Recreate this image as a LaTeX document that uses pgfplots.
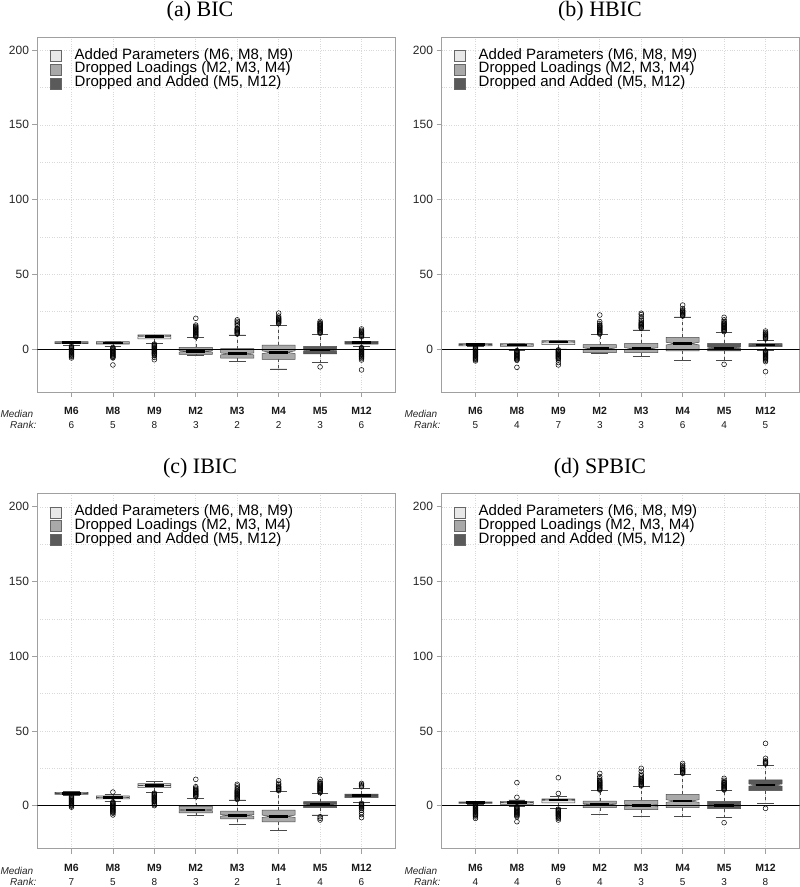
\documentclass[border=0pt]{standalone}
\usepackage{fontspec}
\setmainfont{Liberation Serif}
\newfontfamily\arial{Liberation Sans}
\usepackage{pgfplots}
\pgfplotsset{compat=1.18}
\usepgfplotslibrary{statistics}
\definecolor{cLight}{HTML}{E8E8E8}
\definecolor{cMid}{HTML}{A9A9A9}
\definecolor{cDark}{HTML}{5A5A5A}
\definecolor{frameC}{HTML}{A0A0A0}
\definecolor{boxC}{HTML}{4A4A4A}
\newcommand\lab[2]{{\fontsize{10.5}{12}\selectfont\bfseries #1}\\[2pt]#2}
\newcommand\bx[8]{\addplot[#7, forget plot, boxplot prepared={draw position=#1, lower whisker=#2, lower quartile=#3, median=#4, upper quartile=#5, upper whisker=#6}] table[row sep=\\, y index=0] {v\\ #8};}
\tikzset{medrank/.style={font=\arial\itshape\fontsize{10}{12}\selectfont, anchor=east, black!85, inner sep=0pt}}
\pgfplotsset{
  bL/.style={draw=boxC, fill=cLight, line width=0.5pt, mark=o, mark size=2.4pt, mark options={solid, draw=black, fill=none, line width=0.5pt}},
  bM/.style={bL, fill=cMid},
  bD/.style={bL, fill=cDark},
  boxplot/draw direction=y,
  boxplot/draw/box/.code={%
    \pgfmathsetmacro\bxn{0.1*(\pgfplotsboxplotvalue{upper quartile}-\pgfplotsboxplotvalue{lower quartile})}%
    \pgfmathsetmacro\bxlo{\pgfplotsboxplotvalue{median}-\bxn}%
    \pgfmathsetmacro\bxhi{\pgfplotsboxplotvalue{median}+\bxn}%
    \draw[/pgfplots/boxplot/every box/.try]
      (boxplot box cs:\pgfplotsboxplotvalue{lower quartile},0) -- (boxplot box cs:\bxlo,0) -- (boxplot box cs:\pgfplotsboxplotvalue{median},0.25)
      -- (boxplot box cs:\bxhi,0) -- (boxplot box cs:\pgfplotsboxplotvalue{upper quartile},0) -- (boxplot box cs:\pgfplotsboxplotvalue{upper quartile},1)
      -- (boxplot box cs:\bxhi,1) -- (boxplot box cs:\pgfplotsboxplotvalue{median},0.75) -- (boxplot box cs:\bxlo,1)
      -- (boxplot box cs:\pgfplotsboxplotvalue{lower quartile},1) -- cycle;
  },
  boxplot/draw/median/.code={%
    \draw[/pgfplots/boxplot/every median/.try]
      (boxplot box cs:\pgfplotsboxplotvalue{median},0.21) -- (boxplot box cs:\pgfplotsboxplotvalue{median},0.79);
  },
  boxplot/draw/lower whisker/.code={%
    \draw[boxC, line width=0.5pt, dashed] (boxplot box cs:\pgfplotsboxplotvalue{lower quartile},0.5) -- (boxplot box cs:\pgfplotsboxplotvalue{lower whisker},0.5);
    \draw[boxC, line width=0.5pt, solid] (boxplot whisker cs:\pgfplotsboxplotvalue{lower whisker},0) -- (boxplot whisker cs:\pgfplotsboxplotvalue{lower whisker},1);
  },
  boxplot/draw/upper whisker/.code={%
    \draw[boxC, line width=0.5pt, dashed] (boxplot box cs:\pgfplotsboxplotvalue{upper quartile},0.5) -- (boxplot box cs:\pgfplotsboxplotvalue{upper whisker},0.5);
    \draw[boxC, line width=0.5pt, solid] (boxplot whisker cs:\pgfplotsboxplotvalue{upper whisker},0) -- (boxplot whisker cs:\pgfplotsboxplotvalue{upper whisker},1);
  },
  boxplot/every median/.style={black, line width=2.8pt},
  boxplot/box extend=0.8,
  boxplot/whisker extend=0.4,
  panel/.style={
    scale only axis, width=358pt, height=355pt,
    xmin=0.18, xmax=8.82, ymin=-28.8, ymax=208.8,
    axis line style={frameC, line width=0.8pt},
    xtick={1,...,8}, ytick={0,50,...,200}, minor ytick={25,75,125,175},
    tick pos=left, tick align=outside, major tick length=5pt, minor tick length=0pt,
    tick style={frameC, line width=0.8pt},
    xmajorgrids, ymajorgrids, yminorgrids,
    major grid style={dotted, black!15, line width=0.6pt},
    minor grid style={dotted, black!15, line width=0.6pt},
    /pgf/number format/assume math mode=true,
    yticklabel style={font=\arial\fontsize{12}{14}\selectfont, black!85},
    xticklabel style={font=\arial\fontsize{10}{12}\selectfont, align=center, black!90, yshift=-7pt},
    legend image code/.code={\draw[##1] (0pt,-5.5pt) rectangle (11pt,5.5pt); \path (24pt,0pt);},
    legend style={at={(rel axis cs:0,1)}, anchor=north west, xshift=12.5pt, yshift=-11.5pt, draw=none, fill=none, inner sep=0pt, row sep=-0.2pt,
      font=\arial\fontsize{15}{17}\selectfont, nodes={inner sep=0pt, text height=10.5pt, text depth=3.5pt}},
    legend cell align=left,
  },
}
\newcommand\legs{%
  \addlegendimage{fill=cLight, draw=black!60, line width=0.5pt}\addlegendentry{Added Parameters (M6, M8, M9)}
  \addlegendimage{fill=cMid, draw=black!60, line width=0.5pt}\addlegendentry{Dropped Loadings (M2, M3, M4)}
  \addlegendimage{fill=cDark, draw=black!60, line width=0.5pt}\addlegendentry{Dropped and Added (M5, M12)}}
\newcommand\zero{\addplot[black, line width=0.9pt, forget plot] coordinates {(0.18,0) (8.82,0)};}
\newcommand\mr[2]{\node[medrank] at (#1pt-4pt,#2pt-22pt) {Median};
  \node[medrank] at (#1pt-1pt,#2pt-33pt) {Rank:};}
\begin{document}
\begin{tikzpicture}
\path[use as bounding box] (0pt,0pt) rectangle (800pt,887pt);
\node[font=\fontsize{22}{24}\selectfont, anchor=base] at (200pt,870pt) {(a) BIC};
\node[font=\fontsize{22}{24}\selectfont, anchor=base] at (600pt,870pt) {(b) HBIC};
\node[font=\fontsize{22}{24}\selectfont, anchor=base] at (200pt,413pt) {(c) IBIC};
\node[font=\fontsize{22}{24}\selectfont, anchor=base] at (600pt,413pt) {(d) SPBIC};
\mr{37.5}{495}
\mr{441.5}{495}
\mr{37.5}{38.3}
\mr{441.5}{38.3}
% (a)
\begin{axis}[panel, at={(37.5pt,495pt)}, anchor=south west,
  xticklabels={\lab{M6}{6},\lab{M8}{5},\lab{M9}{8},\lab{M2}{3},\lab{M3}{2},\lab{M4}{2},\lab{M5}{3},\lab{M12}{6}}]
\legs
\bx{1}{2.2}{3.6}{4.2}{4.9}{4.9}{bL}{1.8\\1.3\\0.8\\0.3\\-0.2\\-0.7\\-1.2\\-1.7\\-2.2\\-2.7\\-3.2\\-3.7\\-4.2\\-4.7\\-5.2\\-6.0\\}
\bx{2}{1.5}{3.3}{4.0}{4.9}{4.9}{bL}{1.0\\0.5\\0\\-0.5\\-1\\-1.5\\-2\\-2.5\\-3\\-3.5\\-4\\-4.5\\-5\\-5.5\\-6\\-10.7\\}
\bx{3}{3.8}{6.7}{8.6}{9.4}{9.4}{bL}{3.3\\2.8\\2.3\\1.8\\1.3\\0.8\\0.3\\-0.2\\-0.7\\-1.2\\-1.7\\-2.2\\-2.7\\-3.2\\-3.7\\-4.5\\-5.6\\-7.2\\}
\bx{4}{-4}{-3.6}{-1.6}{1.1}{7.6}{bM}{8.1\\8.6\\9.1\\9.6\\10.1\\10.6\\11.1\\11.6\\12.1\\12.6\\13.1\\13.6\\14.1\\14.6\\15.2\\16\\20.5\\}
\bx{5}{-8.5}{-6.2}{-3.3}{0.2}{9.4}{bM}{10\\10.5\\11\\11.5\\12\\12.5\\13\\13.5\\14\\15.5\\16.5\\17.5\\18.5\\19.5\\}
\bx{6}{-13.4}{-6.9}{-2.2}{2.5}{16}{bM}{17\\17.5\\18\\18.5\\19\\19.5\\20\\20.5\\21\\22\\24\\}
\bx{7}{-9.1}{-3.3}{-0.7}{1.8}{9.8}{bD}{10.5\\11\\11.5\\12\\12.5\\13\\13.5\\14\\14.5\\15\\15.5\\16\\16.5\\17\\17.5\\18.5\\-12\\}
\bx{8}{1.6}{3.3}{4.2}{5.1}{7.6}{bD}{8.2\\8.7\\9.2\\9.7\\10.2\\10.7\\11.2\\11.7\\12.5\\13.4\\0.9\\0.4\\-0.1\\-0.6\\-1.1\\-1.6\\-2.1\\-2.6\\-3.1\\-3.6\\-4.1\\-4.6\\-5.1\\-5.6\\-6.5\\-7.4\\-14\\}
\zero
\end{axis}
% (b)
\begin{axis}[panel, at={(441.5pt,495pt)}, anchor=south west,
  xticklabels={\lab{M6}{5},\lab{M8}{4},\lab{M9}{7},\lab{M2}{3},\lab{M3}{3},\lab{M4}{6},\lab{M5}{4},\lab{M12}{5}}]
\legs
\bx{1}{1.6}{2.0}{2.9}{3.6}{3.6}{bL}{1.2\\0.7\\0.2\\-0.3\\-0.8\\-1.3\\-1.8\\-2.3\\-2.8\\-3.3\\-3.8\\-4.3\\-4.8\\-5.3\\-5.8\\-6.3\\-6.8\\-7.3\\-8\\}
\bx{2}{-0.7}{1.8}{2.7}{3.6}{3.6}{bL}{-1.1\\-1.6\\-2.1\\-2.6\\-3.1\\-3.6\\-4.1\\-4.6\\-5.1\\-5.6\\-6.1\\-6.6\\-7.1\\-7.6\\-12.3\\}
\bx{3}{0}{2.9}{4.7}{5.6}{5.6}{bL}{-0.6\\-1.1\\-1.6\\-2.1\\-2.6\\-3.1\\-3.6\\-4.1\\-4.6\\-5.1\\-5.6\\-6.1\\-6.6\\-7.4\\-9.1\\-10.7\\}
\bx{4}{-2.9}{-2.5}{0.2}{2.9}{9.6}{bM}{10\\10.5\\11\\11.5\\12\\12.5\\13\\13.5\\14\\14.5\\15\\15.5\\16\\17\\18.3\\22.7\\}
\bx{5}{-5.1}{-2.5}{0.2}{3.8}{12.7}{bM}{13.8\\14.3\\14.8\\15.3\\15.8\\16.3\\16.8\\17.3\\18\\19\\20\\21.5\\23\\23.9\\}
\bx{6}{-7.8}{-1.3}{3.6}{7.8}{21.4}{bM}{22\\22.5\\23\\23.5\\24\\24.5\\25\\25.5\\26\\27\\29.4\\}
\bx{7}{-7.8}{-1.3}{0.7}{3.8}{11.1}{bD}{11.6\\12.1\\12.6\\13.1\\13.6\\14.1\\14.6\\15.1\\15.6\\16.1\\16.6\\17.1\\17.6\\18.5\\19.5\\21.2\\-10.3\\}
\bx{8}{-0.7}{1.6}{2.7}{3.6}{6}{bD}{6.7\\7.2\\7.7\\8.2\\8.7\\9.2\\9.7\\10.2\\11\\12\\-1.3\\-1.8\\-2.3\\-2.8\\-3.3\\-3.8\\-4.3\\-4.8\\-5.3\\-5.8\\-6.3\\-6.8\\-7.5\\-8.5\\-15.2\\}
\zero
\end{axis}
% (c)
\begin{axis}[panel, at={(37.5pt,38.3pt)}, anchor=south west,
  xticklabels={\lab{M6}{7},\lab{M8}{5},\lab{M9}{8},\lab{M2}{3},\lab{M3}{2},\lab{M4}{1},\lab{M5}{4},\lab{M12}{6}}]
\legs
\bx{1}{6.7}{7.6}{8.2}{8.9}{9.8}{bL}{6.2\\5.7\\5.2\\4.7\\4.2\\3.7\\3.2\\2.7\\2.2\\1.7\\1.2\\0.7\\0.2\\-0.3\\-1\\}
\bx{2}{3.1}{4.5}{5.6}{6.5}{7.6}{bL}{9.1\\2.6\\2.1\\1.6\\1.1\\0.6\\0.1\\-0.4\\-0.9\\-1.4\\-1.9\\-2.4\\-2.9\\-3.4\\-3.9\\-4.4\\-5\\-6.2\\}
\bx{3}{8.9}{12}{13.6}{14.7}{16.3}{bL}{8.4\\7.9\\7.4\\6.9\\6.4\\5.9\\5.4\\4.9\\4.4\\3.9\\3.4\\2.9\\2.4\\1.6\\0.8\\0\\}
\bx{4}{-6.5}{-4.9}{-2.9}{-0.4}{4.9}{bM}{6\\6.5\\7\\7.5\\8\\8.5\\9\\9.5\\10\\10.5\\11\\11.8\\12.7\\17.6\\}
\bx{5}{-12.5}{-8.9}{-6.5}{-3.6}{3.8}{bM}{4.2\\4.7\\5.2\\5.7\\6.2\\6.7\\7.2\\7.7\\8.2\\8.7\\9.2\\9.7\\10.2\\11\\12\\13.2\\14.3\\}
\bx{6}{-16.5}{-10.9}{-7.1}{-2.9}{9.4}{bM}{10\\10.5\\11\\11.5\\12\\12.5\\13\\14\\15\\16.7\\}
\bx{7}{-6.2}{-1.3}{0.7}{2.7}{8.2}{bD}{8.7\\9.2\\9.7\\10.2\\10.7\\11.2\\11.7\\12.2\\12.7\\13.2\\13.7\\14.2\\14.7\\15.2\\16\\17.6\\-7.4\\-8.5\\-9.6\\}
\bx{8}{2}{5.4}{6.7}{7.8}{11.6}{bD}{12.7\\13.3\\14\\14.9\\1.6\\1.1\\0.6\\0.1\\-0.4\\-0.9\\-1.4\\-2\\-3\\-4.5\\-6\\-8\\}
\zero
\end{axis}
% (d)
\begin{axis}[panel, at={(441.5pt,38.3pt)}, anchor=south west,
  xticklabels={\lab{M6}{4},\lab{M8}{4},\lab{M9}{6},\lab{M2}{4},\lab{M3}{3},\lab{M4}{5},\lab{M5}{3},\lab{M12}{8}}]
\legs
\bx{1}{1.1}{1.6}{2.0}{2.5}{2.5}{bL}{0.7\\0.2\\-0.3\\-0.8\\-1.3\\-1.8\\-2.3\\-2.8\\-3.3\\-3.8\\-4.3\\-4.8\\-5.3\\-5.8\\-6.3\\-6.8\\-7.5\\-8.5\\}
\bx{2}{-0.2}{0.9}{2.0}{2.9}{3.8}{bL}{5.6\\15.4\\-0.7\\-1.2\\-1.7\\-2.2\\-2.7\\-3.2\\-3.7\\-4.2\\-4.7\\-5.2\\-5.7\\-6.2\\-6.7\\-7.4\\-10.7\\}
\bx{3}{-1.8}{1.8}{3.8}{4.5}{6}{bL}{8.2\\18.7\\-2.3\\-2.8\\-3.3\\-3.8\\-4.3\\-4.8\\-5.3\\-5.8\\-6.3\\-6.8\\-7.3\\-7.8\\-8.5\\-9.6\\}
\bx{4}{-5.6}{-1.3}{0.9}{3.1}{10}{bM}{10.5\\11\\11.5\\12\\12.5\\13\\13.5\\14\\14.5\\15\\15.5\\16\\16.5\\17\\18\\19.5\\21.6\\}
\bx{5}{-7.4}{-2.7}{0.2}{3.6}{12.7}{bM}{13.2\\13.7\\14.2\\14.7\\15.2\\15.7\\16.2\\16.7\\17.2\\17.7\\18.2\\19\\20\\21\\23\\25\\}
\bx{6}{-7.4}{-1.3}{3.1}{7.6}{21}{bM}{21.6\\22.1\\22.6\\23.1\\23.6\\24.1\\24.6\\25.1\\26\\27\\28.3\\}
\bx{7}{-8}{-2}{0.2}{2.9}{10}{bD}{10.5\\11\\11.5\\12\\12.5\\13\\13.5\\14\\14.5\\15\\15.5\\16\\17\\18.3\\-11.4\\}
\bx{8}{1.6}{10}{13.8}{17.2}{27.2}{bD}{27.9\\28.4\\28.9\\29.4\\30\\31.7\\41.7\\-1.8\\}
\zero
\end{axis}
\end{tikzpicture}
\end{document}
